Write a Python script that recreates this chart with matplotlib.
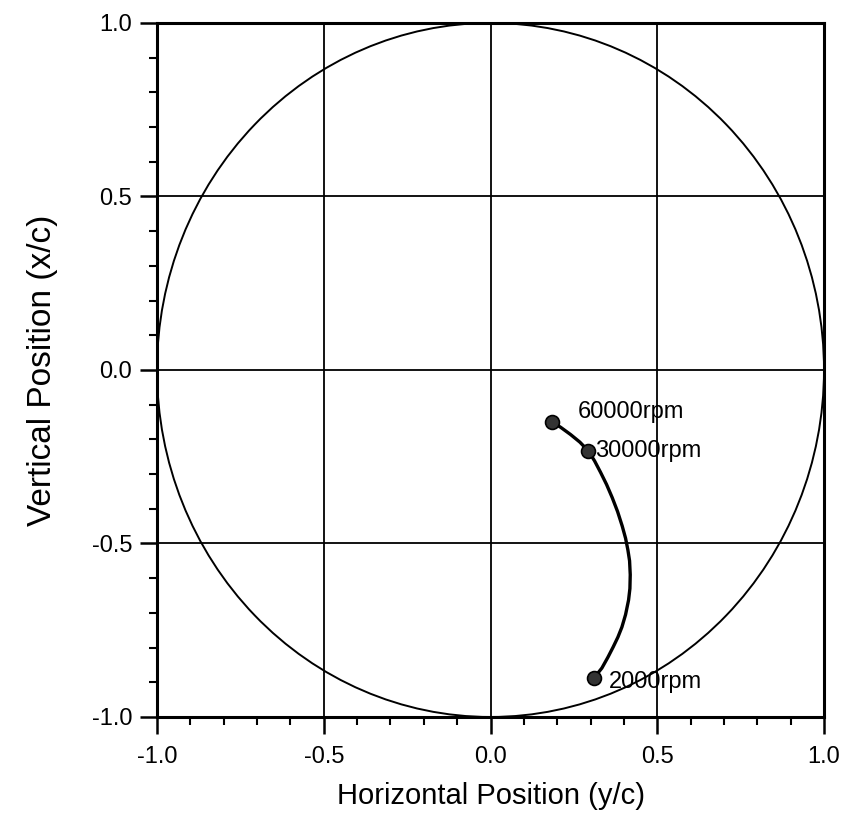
import matplotlib
matplotlib.use("Agg")
import matplotlib.pyplot as plt
from matplotlib.patches import Circle
from matplotlib.ticker import MultipleLocator

plt.rcParams['font.family'] = ['Liberation Sans', 'DejaVu Sans']

# Journal locus (y/c horizontal, x/c vertical)
locus_x = [0.183, 0.210, 0.240, 0.268, 0.293, 0.312, 0.330, 0.348, 0.365, 0.381,
           0.395, 0.405, 0.412, 0.417, 0.419, 0.418, 0.414, 0.405, 0.394, 0.382,
           0.368, 0.352, 0.334, 0.320, 0.310]
locus_y = [-0.149, -0.165, -0.186, -0.208, -0.233, -0.262, -0.295, -0.330, -0.368, -0.408,
           -0.450, -0.485, -0.519, -0.550, -0.590, -0.630, -0.663, -0.705, -0.741, -0.770,
           -0.798, -0.828, -0.859, -0.876, -0.888]

# Labelled operating points
point_labels = ["60000rpm", "30000rpm", "2000rpm"]
point_x = [0.183, 0.293, 0.310]
point_y = [-0.149, -0.233, -0.888]
label_x = [0.262, 0.315, 0.355]
label_y = [-0.122, -0.233, -0.900]

ticks = [-1.0, -0.5, 0.0, 0.5, 1.0]
tick_labels = ["-1.0", "-0.5", "0.0", "0.5", "1.0"]

fig = plt.figure(figsize=(8.57, 8.26), dpi=100)
ax = fig.add_axes([0.1832, 0.1320, 0.9615 - 0.1832, 0.9722 - 0.1320])

ax.set_xlim(-1, 1)
ax.set_ylim(-1, 1)

# clearance circle
ax.add_patch(Circle((0, 0), 1.0, fill=False, edgecolor='black', lw=1.4, zorder=2))

# grid
for t in ticks[1:-1]:
    ax.axvline(t, color='black', lw=1.3, zorder=1)
    ax.axhline(t, color='black', lw=1.3, zorder=1)

ax.plot(locus_x, locus_y, color='black', lw=2.4, zorder=3)
ax.plot(point_x, point_y, linestyle='none', marker='o', markersize=10,
        markerfacecolor='#333333', markeredgecolor='black', markeredgewidth=1.2, zorder=4)
for lx, ly, s in zip(label_x, label_y, point_labels):
    ax.text(lx, ly, s, fontsize=17, va='center', ha='left', zorder=5)

ax.set_xticks(ticks)
ax.set_xticklabels(tick_labels)
ax.set_yticks(ticks)
ax.set_yticklabels(tick_labels)
ax.xaxis.set_minor_locator(MultipleLocator(0.1))
ax.yaxis.set_minor_locator(MultipleLocator(0.1))
ax.tick_params(axis='both', which='major', direction='out', length=12, width=1.8,
               labelsize=17, pad=6)
ax.tick_params(axis='both', which='minor', direction='out', length=6, width=1.5)
ax.tick_params(axis='x', which='major', pad=9)

for sp in ax.spines.values():
    sp.set_linewidth(2.2)

ax.set_xlabel("Horizontal Position (y/c)", fontsize=21, labelpad=10)
ax.set_ylabel("Vertical Position (x/c)", fontsize=24, labelpad=24)

fig.savefig("out.png", dpi=100)
